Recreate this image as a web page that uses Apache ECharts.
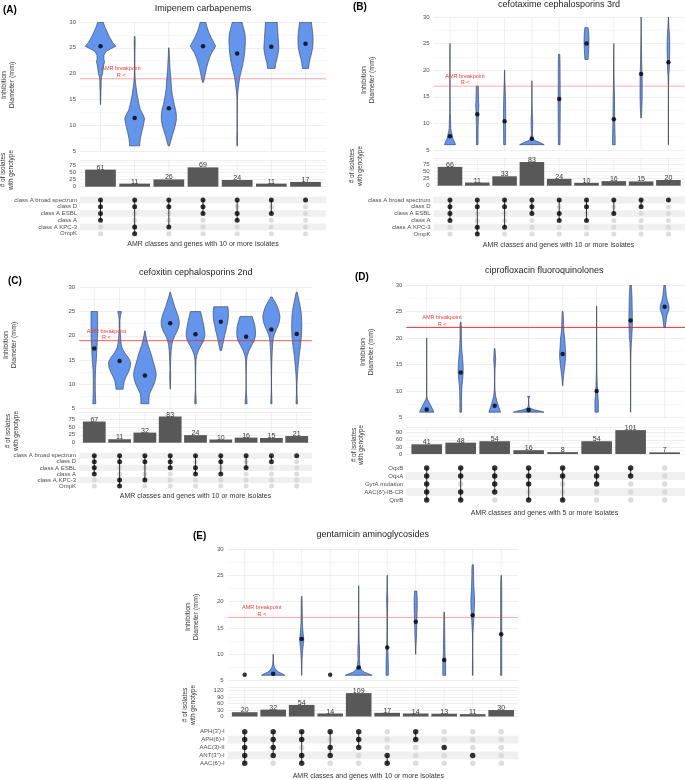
<!DOCTYPE html>
<html><head><meta charset="utf-8">
<script src="https://cdn.jsdelivr.net/npm/echarts@6/dist/echarts.min.js"></script>
<style>html,body{margin:0;padding:0;background:#fff}#c{width:685px;height:780px}</style>
</head><body><div id="c"></div>
<script>
// ---------------- DATA ----------------
const titleA = 'Imipenem carbapenems';
const rowsA = ['class A broad spectrum','class D','class A ESBL','class A','class A KPC-3','OmpK'];
const countsA = [61,11,26,69,24,11,17];
const setsA = [[1,1,1,1,0,0],[1,1,0,0,1,1],[1,1,0,0,1,0],[1,1,1,0,0,0],[1,0,1,1,0,0],[1,0,1,0,0,0],[1,0,0,0,0,0]];
const mediansA = [25.3,11.4,13.3,25.3,23.9,25.2,25.8];
const breakpointA = 19;
const violinsA = [
 [[30,0.08],[29,0.13],[28,0.2],[27,0.27],[26,0.36],[25.3,0.45],[24.8,0.3],[24.3,0.16],[23.5,0.1],[22.8,0.1],[22.3,0.12],[21.8,0.1],[21,0.08],[20,0.06],[19.3,0.03],[18.5,0.02],[17.5,0.02],[16.5,0.012],[15,0.008],[14,0.002]],
 [[27.2,0.01],[26,0.015],[24,0.008],[21,0.006],[19,0.015],[18,0.03],[17,0.05],[16,0.07],[15,0.1],[14,0.13],[13,0.17],[12,0.25],[11.3,0.29],[10.5,0.27],[9.5,0.24],[8.5,0.2],[7.5,0.17],[6.5,0.15],[6,0.15]],
 [[25,0.005],[23,0.02],[21,0.035],[19,0.06],[17,0.08],[16,0.1],[15,0.13],[14,0.16],[13,0.2],[12,0.22],[11,0.22],[10,0.19],[9,0.15],[8,0.1],[7,0.06],[6,0.02]],
 [[30,0.08],[29,0.12],[28,0.17],[27,0.24],[26,0.32],[25.3,0.37],[24.7,0.32],[24,0.25],[23,0.19],[22,0.14],[21,0.1],[20,0.07],[19,0.04],[18.3,0.01]],
 [[30,0.14],[29,0.18],[28,0.22],[27,0.24],[26,0.24],[25,0.23],[24,0.22],[23,0.2],[22,0.17],[21,0.14],[20,0.1],[19,0.07],[18,0.05],[17,0.03],[16,0.015],[15,0.006],[12,0.004],[9,0.006],[8,0.012],[7,0.01],[6,0.008]],
 [[30,0.17],[29,0.18],[28,0.19],[27,0.2],[26,0.21],[25,0.22],[24,0.2],[23,0.17],[22,0.13],[21,0.11]],
 [[30,0.17],[29,0.19],[28,0.21],[27,0.22],[26,0.22],[25,0.21],[24,0.18],[23,0.14],[22,0.11],[21,0.09]]
];

const titleB = 'cefotaxime cephalosporins 3rd';
const rowsB = ['class A broad spectrum','class D','class A ESBL','class A','class A KPC-3','OmpK'];
const countsB = [66,11,33,83,24,10,16,15,20];
const setsB = [[1,1,1,1,0,0],[1,1,0,0,1,1],[1,1,0,0,1,0],[1,1,1,0,0,0],[1,0,1,1,0,0],[1,1,0,1,0,0],[1,0,1,0,0,0],[1,1,0,0,0,0],[1,0,0,0,0,0]];
const mediansB = [7.6,11.7,10.4,7.1,14.6,25.0,10.8,19.3,21.5];
const breakpointB = 17;
const violinsB = [
 [[25,0.004],[20,0.004],[15,0.006],[12,0.01],[11,0.02],[10,0.025],[9,0.03],[8.5,0.05],[8,0.07],[7.5,0.09],[7,0.12],[6.5,0.17],[6,0.2]],
 [[17,0.04],[16,0.04],[15,0.045],[14,0.05],[13.5,0.06],[13,0.055],[12,0.045],[11,0.04],[10,0.035],[9,0.03],[8,0.03],[7,0.03],[6,0.03]],
 [[20,0.005],[18,0.01],[17,0.02],[16,0.025],[15,0.03],[14,0.035],[12,0.04],[10,0.04],[8,0.035],[6,0.035]],
 [[18,0.003],[14,0.006],[12,0.015],[11,0.025],[10,0.03],[9,0.025],[8,0.02],[7.3,0.04],[6.8,0.1],[6.4,0.3],[6,0.45]],
 [[23,0.02],[22,0.03],[18,0.035],[14,0.04],[10,0.035],[6,0.03]],
 [[28,0.06],[27,0.08],[26,0.09],[25,0.09],[24,0.08],[23,0.07],[22,0.06]],
 [[25,0.004],[20,0.008],[17,0.015],[15,0.025],[12,0.03],[10,0.035],[9,0.04],[8,0.045],[7,0.05],[6,0.05]],
 [[30,0.004],[27,0.006],[25,0.012],[22,0.02],[20,0.03],[18,0.04],[15,0.04],[13,0.03],[12,0.02],[11,0.01]],
 [[30,0.005],[28,0.02],[27,0.035],[26,0.045],[24,0.05],[22,0.04],[20,0.03],[19,0.015],[17,0.006],[12,0.004],[6,0.004]]
];

const titleC = 'cefoxitin cephalosporins 2nd';
const rowsC = ['class A broad spectrum','class D','class A ESBL','class A','class A KPC-3','OmpK'];
const countsC = [67,11,32,83,24,10,16,15,21];
const setsC = [[1,1,1,1,0,0],[1,1,0,0,1,1],[1,1,0,0,1,0],[1,1,1,0,0,0],[1,0,1,1,0,0],[1,1,0,1,0,0],[1,0,1,0,0,0],[1,1,0,0,0,0],[1,0,0,0,0,0]];
const mediansC = [17.4,14.8,11.8,22.6,20.3,22.9,19.8,21.3,20.4];
const breakpointC = 19;
const violinsC = [
 [[25,0.13],[23,0.13],[21,0.13],[19,0.12],[17,0.1],[15,0.08],[13,0.05],[11,0.04],[9,0.04],[7,0.05],[6,0.06]],
 [[25,0.07],[24.5,0.05],[24,0.03],[23,0.015],[21.5,0.015],[20.5,0.03],[19.5,0.04],[18.5,0.06],[17.5,0.1],[16.5,0.2],[15.5,0.35],[14.5,0.44],[13.5,0.42],[12.5,0.35],[11.5,0.25],[10.5,0.18],[9.5,0.15],[9,0.14]],
 [[21,0.01],[20,0.04],[19,0.08],[18,0.13],[17,0.2],[16,0.26],[15,0.31],[14,0.37],[13,0.42],[12,0.45],[11,0.42],[10,0.36],[9,0.27],[8,0.18],[7,0.16],[6,0.16]],
 [[29,0.01],[28,0.06],[27,0.12],[26,0.18],[25,0.25],[24,0.32],[23,0.36],[22,0.35],[21,0.28],[20,0.18],[19,0.1],[18,0.06],[17,0.04],[15,0.02],[13,0.01],[11.5,0.02],[10,0.01],[9,0.003]],
 [[25,0.2],[24,0.25],[23,0.29],[22,0.33],[21,0.36],[20,0.37],[19,0.32],[18,0.22],[17,0.12],[16,0.05],[15,0.02],[12,0.006],[9,0.006],[8,0.015],[7,0.025],[6,0.03]],
 [[26,0.28],[25,0.3],[24,0.3],[23,0.28],[22,0.24],[21,0.2],[20,0.15],[19,0.11],[18,0.07],[17,0.03]],
 [[24,0.24],[23,0.3],[22,0.35],[21,0.37],[20,0.37],[19,0.32],[18,0.22],[17,0.12],[16,0.05],[15,0.02],[12,0.005],[9,0.005],[8,0.015],[7,0.03],[6,0.04]],
 [[28,0.03],[27.5,0.08],[27,0.14],[26,0.24],[25,0.3],[24,0.34],[23,0.32],[22,0.26],[21,0.17],[20,0.1],[19,0.06],[17,0.035],[15,0.02],[13,0.01],[11,0.005],[9,0.006],[8,0.012],[7,0.02],[6,0.025]],
 [[29,0.02],[28,0.06],[27,0.1],[26,0.14],[25,0.17],[24,0.19],[22,0.2],[20,0.19],[18,0.15],[16,0.1],[14,0.06],[12,0.03],[10,0.012],[8,0.012],[7,0.02],[6,0.03]]
];

const titleD = 'ciprofloxacin fluoroquinolones';
const rowsD = ['OqxB','OqxA','GyrA mutation',"AAC(6')-IB-CR",'QnrB'];
const countsD = [41,48,54,16,8,54,101,7];
const setsD = [[1,1,1,1,1],[1,1,0,1,1],[1,1,1,1,0],[1,1,1,0,1],[1,1,0,0,1],[1,1,1,0,0],[1,1,0,0,0],[0,0,0,0,0]];
const mediansD = [6.5,13.5,7.2,6.4,17.0,10.0,23.3,25.9];
const breakpointD = 22;
const violinsD = [
 [[20,0.003],[15,0.003],[10,0.004],[9,0.006],[8.5,0.02],[8,0.06],[7.5,0.1],[7,0.14],[6.5,0.18],[6,0.21]],
 [[23,0.01],[22.5,0.015],[22,0.02],[21,0.02],[20,0.02],[19,0.025],[18,0.03],[17,0.045],[16,0.06],[15,0.07],[14,0.075],[13,0.07],[12,0.055],[11,0.04],[10,0.03],[8,0.025],[6,0.025]],
 [[18,0.01],[17,0.02],[16,0.03],[15,0.02],[14,0.01],[12,0.005],[10.5,0.008],[10,0.012],[9,0.03],[8,0.07],[7,0.12],[6.5,0.15],[6,0.17]],
 [[9,0.03],[8.8,0.02],[8.5,0.005],[7.5,0.005],[7,0.02],[6.7,0.06],[6.4,0.2],[6.2,0.35],[6,0.45]],
 [[25,0.01],[24,0.02],[23,0.025],[22,0.03],[21,0.04],[20,0.06],[19,0.07],[18,0.08],[17,0.09],[16,0.085],[15,0.07],[14,0.05],[13,0.03],[12,0.015],[11,0.005]],
 [[26,0.003],[22,0.003],[18,0.005],[14,0.008],[12,0.015],[11,0.02],[10,0.03],[9,0.04],[8,0.05],[7,0.05],[6,0.05]],
 [[30,0.02],[29,0.03],[28,0.04],[26,0.045],[24,0.05],[22,0.05],[21,0.04],[20,0.035],[19,0.02],[17,0.01],[15.5,0.005],[12,0.003],[6,0.003]],
 [[30,0.02],[29,0.035],[28,0.05],[27,0.08],[26.5,0.11],[26,0.13],[25.5,0.13],[25,0.11],[24.5,0.08],[24,0.06],[23,0.04],[22,0.02]]
];

const titleE = 'gentamicin aminoglycosides';
const rowsE = ["APH(3')-I",'APH(6)-I','AAC(3)-II',"ANT(3'')-I","AAC(6')-I"];
const countsE = [20,32,54,14,109,17,14,13,11,30];
const setsE = [[1,1,1,1,1],[1,1,1,1,0],[1,1,0,1,1],[1,0,1,1,0],[1,1,1,0,0],[0,0,0,1,1],[1,1,0,0,0],[0,0,1,0,0],[0,0,0,1,0],[0,0,0,0,0]];
const mediansE = [6.1,6.3,12.9,6.1,7.5,11.3,16.2,8.9,17.4,13.8];
const breakpointE = 17;
const violinsE = [
 [],
 [[10,0.004],[9,0.008],[8,0.02],[7.5,0.05],[7,0.1],[6.6,0.2],[6.3,0.32],[6,0.41]],
 [[21,0.01],[20,0.015],[18,0.02],[16,0.025],[15,0.035],[14,0.05],[13,0.07],[12.5,0.07],[12,0.06],[11,0.04],[10,0.025],[9,0.015],[8,0.01],[6,0.005]],
 [],
 [[23,0.004],[18,0.005],[15,0.01],[13,0.015],[12,0.02],[11,0.03],[10,0.03],[9,0.025],[8,0.04],[7.5,0.06],[7,0.1],[6.6,0.2],[6.3,0.35],[6,0.47]],
 [[25,0.005],[22,0.01],[21,0.02],[20,0.02],[19,0.015],[17,0.01],[15,0.01],[13,0.012],[11,0.02],[10,0.03],[9,0.035],[8,0.04],[7,0.04],[6,0.04]],
 [[22,0.04],[21,0.05],[20,0.055],[19,0.055],[18,0.05],[17,0.045],[16,0.04],[15,0.035],[14,0.03],[13,0.025],[12,0.015],[11,0.008],[10,0.004]],
 [[18,0.01],[16,0.015],[14,0.02],[12,0.025],[10,0.03],[9,0.04],[8,0.05],[7,0.05],[6,0.05]],
 [[27,0.02],[26,0.03],[25,0.03],[24,0.035],[23,0.04],[22,0.05],[21,0.06],[20,0.065],[19,0.06],[18,0.05],[17,0.04],[16,0.03],[15,0.02],[14,0.01],[12,0.005],[10,0.005],[8,0.01],[6,0.01]],
 [[25,0.005],[24,0.015],[22,0.02],[18,0.02],[14,0.02],[10,0.02],[6,0.02]]
];

const xTitle10 = 'AMR classes and genes with 10 or more isolates';
const xTitle5 = 'AMR classes and genes with 5 or more isolates';
const yTitleViolin = 'Inhibition\nDiameter (mm)';
const yTitleBar = '# of isolates\nwith genotype';
const violinTicks = {min:5, max:30, step:5};
const bpText1 = 'AMR breakpoint', bpText2 = 'R <';

// ---------------- LAYOUT ----------------
const FONT = "'Liberation Sans', Arial, sans-serif";
const panels = [
 {lab:'(A)', title:titleA, rows:rowsA, counts:countsA, sets:setsA, med:mediansA, vio:violinsA, bp:breakpointA, xt:xTitle10,
  L:{left:80,width:246,vTop:22,vH:129,bTop:160.1,bH:26.6,bMax:95,bInt:25,mTop:196.6,mH:40.4,dot:5,
     tx:203,ty:8.5,lx:3,ly:10,vyx:8,vyy:85,byx:7,byy:170,xtx:203,xty:244,bpX:1.6,bpCol:'rgba(235,60,60,0.45)'}},
 {lab:'(B)', title:titleB, rows:rowsB, counts:countsB, sets:setsB, med:mediansB, vio:violinsB, bp:breakpointB, xt:xTitle10,
  L:{left:433.6,width:251.2,vTop:17,vH:133,bTop:158.6,bH:27.1,bMax:95,bInt:25,mTop:196.6,mH:40.8,dot:5,
     tx:559,ty:5,lx:353,ly:7.5,vyx:368,vyy:80,byx:356,byy:166,xtx:558.5,xty:245,bpX:1.55,bpCol:'rgba(235,60,60,0.4)'}},
 {lab:'(C)', title:titleC, rows:rowsC, counts:countsC, sets:setsC, med:mediansC, vio:violinsC, bp:breakpointC, xt:xTitle10,
  L:{left:79.1,width:232.8,vTop:287.3,vH:121.3,bTop:412.7,bH:30,bMax:95,bInt:25,mTop:452.7,mH:36.4,dot:5,
     tx:195.7,ty:273,lx:8,ly:281,vyx:10,vyy:345,byx:12,byy:431,xtx:195.5,xty:496,bpX:1.48,bpCol:'rgba(225,45,45,0.75)'}},
 {lab:'(D)', title:titleD, rows:rowsD, counts:countsD, sets:setsD, med:mediansD, vio:violinsD, bp:breakpointD, xt:xTitle5,
  L:{left:406.3,width:278.8,vTop:285,vH:132.5,bTop:426.8,bH:27.2,bMax:115,bInt:30,mTop:464,mH:40,dot:5.5,
     tx:544.3,ty:270.7,lx:355,ly:277.7,vyx:367,vyy:352,byx:357.5,byy:445,xtx:544.5,xty:513,bpX:1.45,bpCol:'rgba(225,30,30,0.9)'}},
 {lab:'(E)', title:titleE, rows:rowsE, counts:countsE, sets:setsE, med:mediansE, vio:violinsE, bp:breakpointE, xt:xTitle10,
  L:{left:227.6,width:290.7,vTop:549,vH:131.6,bTop:687.5,bH:29,bMax:135,bInt:30,mTop:727.75,mH:39.5,dot:5.5,
     tx:372.7,ty:534.3,lx:193,ly:536,vyx:192,vyy:617,byx:189,byy:705,xtx:368.3,xty:776,bpX:1.6,bpCol:'rgba(235,60,60,0.45)'}}
];

const grid=[], xAxis=[], yAxis=[], series=[], graphic=[];
const gridCol = '#e4e4e4', minorCol = '#f1f1f1';

function txt(x,y,text,size,opts){
  graphic.push(Object.assign({type:'text', x:x, y:y, silent:true,
    style:Object.assign({text:text, fontSize:size, fontFamily:FONT, fill:'#222', align:'center', verticalAlign:'middle'}, (opts&&opts.style)||{})},
    opts&&opts.rotation!==undefined?{rotation:opts.rotation}:{}));
}

function vlines(ai, n, y0, y1){
  series.push({type:'custom', coordinateSystem:'cartesian2d', xAxisIndex:ai, yAxisIndex:ai, silent:true, z:1,
    data: Array.from({length:n},(_,k)=>[k+1]),
    renderItem:(params, api)=>{
      const i = api.value(0); const a = api.coord([i,y0]), b = api.coord([i,y1]);
      return {type:'line', shape:{x1:a[0],y1:a[1],x2:b[0],y2:b[1]}, style:{stroke:gridCol, lineWidth:0.6}};
    }});
}

panels.forEach(P=>{
  const L = P.L, n = P.counts.length, gi = grid.length, nr = P.rows.length;
  grid.push({left:L.left, top:L.vTop, width:L.width, height:L.vH});
  grid.push({left:L.left, top:L.bTop, width:L.width, height:L.bH});
  grid.push({left:L.left, top:L.mTop, width:L.width, height:L.mH});
  for (let k=0;k<3;k++) xAxis.push({type:'value', gridIndex:gi+k, min:0.4, max:n+0.6, show:false});
  const lab = {fontSize:6, color:'#4d4d4d', fontFamily:FONT, margin:4};
  yAxis.push({type:'value', gridIndex:gi, min:violinTicks.min, max:violinTicks.max, interval:violinTicks.step,
    axisLine:{show:false}, axisTick:{show:false}, axisLabel:lab,
    splitLine:{lineStyle:{color:gridCol, width:0.6}},
    minorTick:{show:false, splitNumber:2}, minorSplitLine:{show:true, lineStyle:{color:minorCol, width:0.5}}});
  yAxis.push({type:'value', gridIndex:gi+1, min:0, max:L.bMax, interval:L.bInt,
    axisLine:{show:false}, axisTick:{show:false},
    axisLabel:Object.assign({}, lab, {formatter:v => (v % L.bInt === 0 ? String(v) : '')}),
    splitLine:{lineStyle:{color:gridCol, width:0.6}},
    minorTick:{show:false, splitNumber:2}, minorSplitLine:{show:true, lineStyle:{color:minorCol, width:0.5}}});
  yAxis.push({type:'category', gridIndex:gi+2, data:P.rows, inverse:true,
    axisLine:{show:false}, axisTick:{show:false}, axisLabel:Object.assign({}, lab, {margin:3, interval:0}), splitLine:{show:false}});

  // violin panel
  vlines(gi, n, violinTicks.min, violinTicks.max);
  series.push({type:'custom', coordinateSystem:'cartesian2d', xAxisIndex:gi, yAxisIndex:gi, silent:true, z:3, clip:true,
    data: P.med.map((m,k)=>[k+1, m]),
    renderItem:(params, api)=>{
      const prof = P.vio[params.dataIndex]; const i = api.value(0);
      if (!prof.length) return null;
      const pts = [];
      prof.forEach(p=>pts.push(api.coord([i+p[1], p[0]])));
      for (let k=prof.length-1;k>=0;k--) pts.push(api.coord([i-prof[k][1], prof[k][0]]));
      return {type:'polygon', shape:{points:pts}, style:{fill:'#6495ED', stroke:'#333844', lineWidth:0.6}};
    }});
  series.push({type:'custom', coordinateSystem:'cartesian2d', xAxisIndex:gi, yAxisIndex:gi, silent:true, z:4,
    data:[[L.bpX, P.bp]],
    renderItem:(params, api)=>{
      const bp = api.value(1), lx = api.value(0);
      const a = api.coord([0.4, bp]), b = api.coord([n+0.6, bp]);
      const t1 = api.coord([lx, bp+1.9]), t2 = api.coord([lx, bp+0.6]);
      const ts = {fontSize:5.5, fontFamily:FONT, fill:'#e8413c', align:'center', verticalAlign:'middle'};
      return {type:'group', children:[
        {type:'line', shape:{x1:a[0],y1:a[1],x2:b[0],y2:b[1]}, style:{stroke:L.bpCol, lineWidth:1}},
        {type:'text', x:t1[0], y:t1[1], style:Object.assign({text:bpText1}, ts)},
        {type:'text', x:t2[0], y:t2[1], style:Object.assign({text:bpText2}, ts)}
      ]};
    }});
  series.push({type:'scatter', xAxisIndex:gi, yAxisIndex:gi, silent:true, z:5, symbolSize:4.5,
    itemStyle:{color:'#000'}, data:P.med.map((m,k)=>[k+1,m])});

  // bar panel
  vlines(gi+1, n, 0, L.bMax);
  series.push({type:'custom', coordinateSystem:'cartesian2d', xAxisIndex:gi+1, yAxisIndex:gi+1, silent:true, z:3,
    data:P.counts.map((c,k)=>[k+1,c]),
    renderItem:(params, api)=>{
      const i = api.value(0), v = api.value(1);
      const p0 = api.coord([i-0.45, v]), p1 = api.coord([i+0.45, 0]);
      return {type:'group', children:[
        {type:'rect', shape:{x:p0[0], y:p0[1], width:p1[0]-p0[0], height:p1[1]-p0[1]}, style:{fill:'#585858'}},
        {type:'text', x:(p0[0]+p1[0])/2, y:p0[1]+1.6, style:{text:String(v), fontSize:7, fontFamily:FONT, fill:'#333', align:'center', verticalAlign:'bottom'}}
      ]};
    }});

  // matrix panel
  const shaded = P.rows.map((r,k)=>k).filter(k => (nr-k)%2===0);
  series.push({type:'custom', coordinateSystem:'cartesian2d', xAxisIndex:gi+2, yAxisIndex:gi+2, silent:true, z:1,
    data:shaded.map(k=>[0.4,k]),
    renderItem:(params, api)=>{
      const k = api.value(1);
      const a = api.coord([0.4, k]), b = api.coord([n+0.6, k]); const h = api.size([0,1])[1];
      return {type:'rect', shape:{x:a[0], y:a[1]-h/2, width:b[0]-a[0], height:h}, style:{fill:'#f0f0f0'}};
    }});
  const absent=[], present=[];
  P.sets.forEach((s,ci)=>s.forEach((f,ri)=>{ (f?present:absent).push([ci+1, ri]); }));
  series.push({type:'scatter', xAxisIndex:gi+2, yAxisIndex:gi+2, silent:true, z:2, symbolSize:L.dot,
    itemStyle:{color:'#d4d4d4'}, data:absent});
  series.push({type:'custom', coordinateSystem:'cartesian2d', xAxisIndex:gi+2, yAxisIndex:gi+2, silent:true, z:3,
    data:P.sets.map((s,ci)=>{ const idx = s.map((f,ri)=>f?ri:-1).filter(r=>r>=0); return [ci+1, idx.length?Math.min(...idx):0, idx.length?Math.max(...idx):0]; }),
    renderItem:(params, api)=>{
      const i = api.value(0), r0 = api.value(1), r1 = api.value(2);
      if (r1 <= r0) return null;
      const a = api.coord([i, r0]), b = api.coord([i, r1]);
      return {type:'line', shape:{x1:a[0],y1:a[1],x2:b[0],y2:b[1]}, style:{stroke:'#3a3a3a', lineWidth:1}};
    }});
  series.push({type:'scatter', xAxisIndex:gi+2, yAxisIndex:gi+2, silent:true, z:4, symbolSize:L.dot,
    itemStyle:{color:'#000'}, data:present});

  // texts
  txt(L.tx, L.ty, P.title, 9, {style:{fill:'#222'}});
  txt(L.lx, L.ly, P.lab, 10, {style:{fill:'#000', fontWeight:'bold', align:'left'}});
  txt(L.vyx, L.vyy, yTitleViolin, 7, {rotation:Math.PI/2, style:{fill:'#333', lineHeight:8}});
  txt(L.byx, L.byy, yTitleBar, 6.5, {rotation:Math.PI/2, style:{fill:'#333', lineHeight:7.5}});
  txt(L.xtx, L.xty, P.xt, 7, {style:{fill:'#333'}});
});

const chart = echarts.init(document.getElementById('c'), null, {renderer:'canvas'});
chart.setOption({animation:false, backgroundColor:'#fff', grid, xAxis, yAxis, series, graphic});
</script></body></html>
